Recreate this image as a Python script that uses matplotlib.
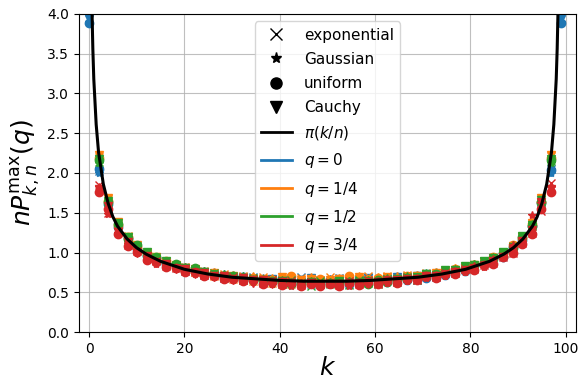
import matplotlib
matplotlib.use('Agg')
import matplotlib.pyplot as plt
from matplotlib.lines import Line2D

# marker positions (k) for n = 100
k_pts = [0, 2.0, 4.0, 6.1, 8.1, 10.1, 12.1, 14.1, 16.2, 18.2, 20.2, 22.2, 24.2, 26.3, 28.3, 30.3, 32.3, 34.3, 36.4, 38.4,
         40.4, 42.4, 44.4, 46.5, 48.5, 50.5, 52.5, 54.6, 56.6, 58.6, 60.6, 62.6, 64.7, 66.7, 68.7, 70.7, 72.7, 74.7, 76.8, 78.8,
         80.8, 82.8, 84.8, 86.9, 88.9, 90.9, 92.9, 94.9, 97.0, 99.0]

# limit curve pi(k/n)
curve_k = [0.6, 0.8, 1, 1.5, 2, 3, 4, 5, 6, 8, 10, 12, 15, 20, 25, 30, 35, 40, 45, 49.5,
           54, 59, 64, 69, 74, 79, 84, 87, 89, 91, 93, 94, 95, 96, 97, 97.5, 98, 98.2, 98.4]
curve_y = [4.10, 3.56, 3.18, 2.61, 2.26, 1.86, 1.62, 1.45, 1.33, 1.17, 1.06, 0.98, 0.89, 0.79, 0.73, 0.69, 0.67, 0.65, 0.64, 0.64,
           0.64, 0.65, 0.67, 0.69, 0.73, 0.79, 0.89, 0.98, 1.06, 1.17, 1.33, 1.45, 1.62, 1.86, 2.26, 2.61, 3.18, 3.56, 4.10]

# q = 0
exp_q0 = [3.95, 2.03, 1.58, 1.30, 1.13, 1.07, 0.95, 0.92, 0.84, 0.85, 0.77, 0.78, 0.72, 0.74, 0.68, 0.71, 0.66, 0.69, 0.63, 0.67, 0.62, 0.66, 0.69, 0.61, 0.66,
          0.62, 0.68, 0.61, 0.66, 0.69, 0.62, 0.68, 0.64, 0.71, 0.66, 0.73, 0.69, 0.76, 0.74, 0.81, 0.80, 0.88, 0.89, 0.99, 1.03, 1.18, 1.29, 1.59, 2.05, 3.95]
gau_q0 = [3.90, 2.00, 1.60, 1.33, 1.17, 1.02, 0.99, 0.90, 0.89, 0.80, 0.82, 0.75, 0.77, 0.70, 0.73, 0.67, 0.70, 0.64, 0.68, 0.63, 0.67, 0.62, 0.66, 0.61, 0.65,
          0.67, 0.61, 0.66, 0.63, 0.68, 0.62, 0.69, 0.64, 0.70, 0.67, 0.72, 0.70, 0.73, 0.78, 0.78, 0.85, 0.85, 0.92, 0.96, 1.08, 1.15, 1.35, 1.58, 2.00, 3.90]
uni_q0 = [3.88, 2.05, 1.61, 1.32, 1.18, 1.05, 0.96, 0.93, 0.86, 0.84, 0.78, 0.77, 0.73, 0.74, 0.69, 0.70, 0.65, 0.68, 0.66, 0.63, 0.68, 0.61, 0.65, 0.66, 0.62,
          0.65, 0.66, 0.60, 0.67, 0.64, 0.66, 0.63, 0.69, 0.66, 0.71, 0.68, 0.74, 0.72, 0.78, 0.77, 0.84, 0.86, 0.93, 0.95, 1.07, 1.16, 1.34, 1.62, 2.04, 3.88]
cau_q0 = [3.93, 2.02, 1.59, 1.31, 1.16, 1.05, 0.98, 0.89, 0.87, 0.81, 0.81, 0.74, 0.76, 0.71, 0.70, 0.68, 0.69, 0.64, 0.66, 0.67, 0.61, 0.67, 0.62, 0.68, 0.63,
          0.61, 0.67, 0.64, 0.62, 0.68, 0.64, 0.67, 0.69, 0.65, 0.70, 0.73, 0.70, 0.76, 0.75, 0.81, 0.80, 0.88, 0.89, 0.99, 1.04, 1.17, 1.30, 1.60, 2.01, 3.93]

# q = 1/4
exp_q1 = [4.6, 2.20, 1.67, 1.36, 1.21, 1.06, 1.01, 0.91, 0.90, 0.82, 0.82, 0.75, 0.77, 0.70, 0.73, 0.67, 0.71, 0.64, 0.69, 0.62, 0.67, 0.60, 0.68, 0.63, 0.66,
          0.69, 0.60, 0.67, 0.63, 0.70, 0.62, 0.71, 0.65, 0.72, 0.67, 0.74, 0.71, 0.78, 0.76, 0.83, 0.82, 0.90, 0.91, 1.01, 1.06, 1.21, 1.36, 1.67, 2.21, 4.6]
gau_q1 = [4.6, 2.18, 1.64, 1.37, 1.17, 1.09, 0.97, 0.95, 0.86, 0.86, 0.79, 0.80, 0.73, 0.75, 0.69, 0.72, 0.66, 0.70, 0.62, 0.68, 0.64, 0.67, 0.61, 0.69, 0.64,
          0.62, 0.68, 0.65, 0.70, 0.63, 0.69, 0.64, 0.70, 0.66, 0.72, 0.69, 0.75, 0.73, 0.80, 0.79, 0.86, 0.86, 0.95, 0.97, 1.09, 1.17, 1.38, 1.65, 2.18, 4.6]
uni_q1 = [4.6, 2.19, 1.65, 1.35, 1.20, 1.07, 1.00, 0.92, 0.89, 0.83, 0.81, 0.76, 0.76, 0.72, 0.71, 0.69, 0.67, 0.68, 0.65, 0.66, 0.63, 0.70, 0.64, 0.62, 0.67,
          0.64, 0.63, 0.70, 0.64, 0.66, 0.68, 0.65, 0.67, 0.70, 0.68, 0.72, 0.73, 0.74, 0.79, 0.78, 0.85, 0.87, 0.94, 0.96, 1.10, 1.18, 1.36, 1.64, 2.19, 4.6]
cau_q1 = [4.6, 2.22, 1.68, 1.38, 1.19, 1.10, 0.99, 0.94, 0.88, 0.85, 0.80, 0.79, 0.74, 0.74, 0.71, 0.70, 0.68, 0.66, 0.67, 0.65, 0.69, 0.63, 0.66, 0.67, 0.62,
          0.66, 0.67, 0.62, 0.69, 0.65, 0.66, 0.69, 0.66, 0.69, 0.71, 0.70, 0.74, 0.75, 0.78, 0.81, 0.84, 0.88, 0.93, 0.98, 1.08, 1.20, 1.37, 1.68, 2.22, 4.6]

# q = 1/2
exp_q2 = [4.8, 2.14, 1.63, 1.35, 1.18, 1.08, 0.98, 0.94, 0.86, 0.85, 0.79, 0.79, 0.73, 0.74, 0.69, 0.71, 0.66, 0.68, 0.63, 0.66, 0.60, 0.65, 0.62, 0.58, 0.64,
          0.60, 0.63, 0.59, 0.65, 0.62, 0.60, 0.67, 0.63, 0.69, 0.66, 0.72, 0.70, 0.77, 0.76, 0.82, 0.81, 0.89, 0.91, 1.00, 1.05, 1.20, 1.33, 1.64, 2.15, 4.8]
gau_q2 = [4.8, 2.12, 1.62, 1.34, 1.19, 1.07, 1.00, 0.91, 0.89, 0.82, 0.82, 0.75, 0.77, 0.71, 0.73, 0.67, 0.70, 0.64, 0.67, 0.61, 0.65, 0.63, 0.59, 0.64, 0.61,
          0.63, 0.61, 0.64, 0.60, 0.66, 0.62, 0.68, 0.64, 0.71, 0.67, 0.74, 0.72, 0.75, 0.79, 0.79, 0.86, 0.86, 0.94, 0.97, 1.09, 1.16, 1.36, 1.62, 2.12, 4.8]
uni_q2 = [4.8, 2.16, 1.64, 1.36, 1.17, 1.09, 0.97, 0.95, 0.87, 0.86, 0.78, 0.80, 0.74, 0.73, 0.70, 0.70, 0.67, 0.66, 0.64, 0.64, 0.62, 0.61, 0.60, 0.62, 0.59,
          0.62, 0.60, 0.63, 0.62, 0.61, 0.65, 0.63, 0.66, 0.67, 0.68, 0.71, 0.73, 0.76, 0.77, 0.81, 0.83, 0.88, 0.92, 0.99, 1.06, 1.19, 1.34, 1.64, 2.16, 4.8]
cau_q2 = [4.8, 2.18, 1.65, 1.37, 1.20, 1.06, 1.01, 0.92, 0.90, 0.83, 0.81, 0.77, 0.75, 0.72, 0.71, 0.69, 0.68, 0.65, 0.66, 0.63, 0.64, 0.62, 0.61, 0.63, 0.60,
          0.61, 0.64, 0.60, 0.63, 0.64, 0.63, 0.66, 0.67, 0.68, 0.69, 0.73, 0.72, 0.78, 0.78, 0.83, 0.84, 0.90, 0.93, 1.01, 1.07, 1.21, 1.35, 1.66, 2.18, 4.8]

# q = 3/4
exp_q3 = [5.0, 1.85, 1.50, 1.27, 1.10, 1.02, 0.93, 0.89, 0.83, 0.81, 0.77, 0.76, 0.72, 0.72, 0.68, 0.69, 0.65, 0.67, 0.62, 0.65, 0.61, 0.64, 0.59, 0.63, 0.60,
          0.62, 0.59, 0.64, 0.60, 0.65, 0.61, 0.66, 0.63, 0.68, 0.66, 0.71, 0.69, 0.74, 0.74, 0.79, 0.79, 0.85, 0.87, 0.95, 1.00, 1.12, 1.25, 1.52, 1.88, 5.0]
gau_q3 = [5.0, 1.82, 1.48, 1.24, 1.11, 0.99, 0.94, 0.86, 0.84, 0.79, 0.78, 0.73, 0.73, 0.69, 0.70, 0.66, 0.67, 0.63, 0.65, 0.60, 0.64, 0.58, 0.62, 0.59, 0.61,
          0.59, 0.62, 0.58, 0.63, 0.60, 0.64, 0.62, 0.66, 0.64, 0.68, 0.68, 0.72, 0.71, 0.77, 0.76, 0.83, 0.82, 0.92, 0.94, 1.09, 1.13, 1.47, 1.62, 1.82, 5.0]
uni_q3 = [5.0, 1.76, 1.55, 1.23, 1.08, 1.01, 0.91, 0.88, 0.82, 0.80, 0.75, 0.75, 0.71, 0.70, 0.67, 0.67, 0.64, 0.65, 0.61, 0.63, 0.59, 0.62, 0.58, 0.61, 0.58,
          0.61, 0.58, 0.62, 0.59, 0.63, 0.60, 0.65, 0.62, 0.67, 0.65, 0.70, 0.68, 0.73, 0.73, 0.78, 0.78, 0.84, 0.86, 0.94, 0.99, 1.11, 1.23, 1.55, 1.76, 5.0]
cau_q3 = [5.0, 1.80, 1.58, 1.26, 1.13, 1.00, 0.96, 0.87, 0.86, 0.79, 0.79, 0.73, 0.74, 0.69, 0.71, 0.66, 0.68, 0.62, 0.66, 0.61, 0.63, 0.60, 0.61, 0.62, 0.59,
          0.60, 0.61, 0.60, 0.62, 0.61, 0.63, 0.63, 0.65, 0.66, 0.67, 0.70, 0.71, 0.72, 0.76, 0.77, 0.81, 0.83, 0.90, 0.95, 1.03, 1.14, 1.28, 1.64, 1.80, 5.0]

q_labels = ['$q = 0$', '$q = 1/4$', '$q = 1/2$', '$q = 3/4$']
q_colors = ['tab:blue', 'tab:orange', 'tab:green', 'tab:red']
dist_labels = ['exponential', 'Gaussian', 'uniform', 'Cauchy']
dist_markers = ['x', '*', 'o', 'v']
series = [[exp_q0, gau_q0, uni_q0, cau_q0],
          [exp_q1, gau_q1, uni_q1, cau_q1],
          [exp_q2, gau_q2, uni_q2, cau_q2],
          [exp_q3, gau_q3, uni_q3, cau_q3]]

fig = plt.figure(figsize=(5.81, 3.84), dpi=100)
ax = fig.add_axes([0.136, 0.135, 0.855, 0.829])

for col, group in zip(q_colors, series):
    for mk, ys in zip(dist_markers, group):
        ax.plot(k_pts, ys, linestyle='none', marker=mk, color=col, markersize=6)

ax.plot(curve_k, curve_y, color='k', linewidth=2.2)

ax.set_xlim(-2.1, 102.1)
ax.set_ylim(0, 4)
ax.set_yticks([0, 0.5, 1, 1.5, 2, 2.5, 3, 3.5, 4])
ax.grid(True, color='#b0b0b0', linewidth=0.8, alpha=0.8)
ax.set_xlabel('$k$', fontsize=18, labelpad=0)
ax.set_ylabel(r'$nP_{k,n}^{\max}(q)$', fontsize=18)

handles = [Line2D([], [], color='k', marker=m, linestyle='none', markersize=8, label=l)
           for m, l in zip(dist_markers, dist_labels)]
handles.append(Line2D([], [], color='k', linewidth=2, label=r'$\pi(k/n)$'))
handles += [Line2D([], [], color=c, linewidth=2, label=l) for c, l in zip(q_colors, q_labels)]
ax.legend(handles=handles, loc='upper center', fontsize=11, labelspacing=0.6, framealpha=0.8)

fig.savefig('out.png', dpi=100)
